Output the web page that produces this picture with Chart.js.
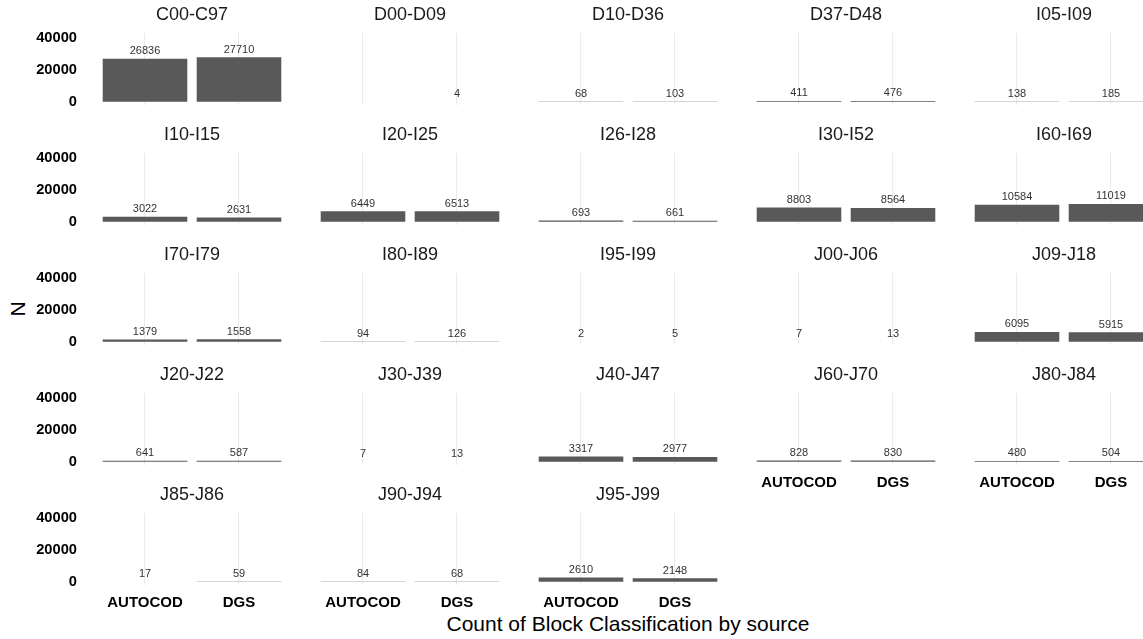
<!DOCTYPE html>
<html>
<head>
<meta charset="utf-8">
<script src="https://cdn.jsdelivr.net/npm/chart.js@4"></script>
<style>
  html, body { margin: 0; padding: 0; background: #fff; }
  body { width: 1143px; height: 639px; position: relative; overflow: hidden; font-family: "Liberation Sans", Arial, sans-serif; }
  .panel { position: absolute; }
  .title-x { position: absolute; left: 628px; top: 624px; transform: translate(-50%, -50%); font-size: 21px; color: #000; white-space: nowrap; }
  .title-y { position: absolute; left: 18px; top: 309px; transform: translate(-50%, -50%) rotate(-90deg); font-size: 21px; color: #000; }
</style>
</head>
<body>
<div class="title-y">N</div>
<div class="title-x">Count of Block Classification by source</div>
<script>
const categories = ['C00-C97', 'D00-D09', 'D10-D36', 'D37-D48', 'I05-I09',
  'I10-I15', 'I20-I25', 'I26-I28', 'I30-I52', 'I60-I69',
  'I70-I79', 'I80-I89', 'I95-I99', 'J00-J06', 'J09-J18',
  'J20-J22', 'J30-J39', 'J40-J47', 'J60-J70', 'J80-J84',
  'J85-J86', 'J90-J94', 'J95-J99'];
const sources = ['AUTOCOD', 'DGS'];
const autocod = [26836, null, 68, 411, 138,
  3022, 6449, 693, 8803, 10584,
  1379, 94, 2, 7, 6095,
  641, 7, 3317, 828, 480,
  17, 84, 2610];
const dgs = [27710, 4, 103, 476, 185,
  2631, 6513, 661, 8564, 11019,
  1558, 126, 5, 13, 5915,
  587, 13, 2977, 830, 504,
  59, 68, 2148];
const yTicks = [0, 20000, 40000];

const FONT = '"Liberation Sans", Arial, sans-serif';
const NCOL = 5;
const PANEL_W = 188, PANEL_H = 72, TITLE_H = 33, XAXIS_H = 30, YAXIS_W = 98;
const COL_STEP = 218, ROW_STEP = 120, LEFT0 = 98;

// value labels above each bar
const barLabels = {
  id: 'barLabels',
  afterDatasetsDraw(chart) {
    const ctx = chart.ctx;
    const meta = chart.getDatasetMeta(0);
    const data = chart.data.datasets[0].data;
    ctx.save();
    ctx.font = '11px ' + FONT;
    ctx.fillStyle = '#333333';
    ctx.textAlign = 'center';
    ctx.textBaseline = 'middle';
    meta.data.forEach((bar, j) => {
      if (data[j] == null) return;
      ctx.fillText(String(data[j]), bar.x, bar.y - 7.7);
    });
    ctx.restore();
  }
};

categories.forEach((cat, i) => {
  const row = Math.floor(i / NCOL), col = i % NCOL;
  const isLeft = col === 0;
  const isBottom = i + NCOL >= categories.length;
  const w = PANEL_W + (isLeft ? YAXIS_W : 0);
  const h = TITLE_H + PANEL_H + XAXIS_H;

  const div = document.createElement('div');
  div.className = 'panel';
  div.style.left = (LEFT0 + col * COL_STEP - (isLeft ? YAXIS_W : 0)) + 'px';
  div.style.top = (row * ROW_STEP) + 'px';
  const canvas = document.createElement('canvas');
  canvas.width = w; canvas.height = h;
  canvas.style.width = w + 'px'; canvas.style.height = h + 'px';
  div.appendChild(canvas);
  document.body.appendChild(div);

  new Chart(canvas, {
    type: 'bar',
    data: {
      labels: sources,
      datasets: [{
        data: [autocod[i], dgs[i]],
        backgroundColor: '#595959',
        borderWidth: 0,
        barPercentage: 0.9,
        categoryPercentage: 1.0
      }]
    },
    options: {
      responsive: false,
      animation: false,
      devicePixelRatio: 1,
      layout: { padding: 0 },
      plugins: {
        legend: { display: false },
        tooltip: { enabled: false },
        title: {
          display: true,
          fullSize: false,
          text: cat,
          color: '#1a1a1a',
          font: { family: FONT, size: 18, weight: 'normal', lineHeight: 1.2 },
          padding: { top: 4.5, bottom: 6.9 }
        }
      },
      scales: {
        x: {
          type: 'category',
          offset: true,
          border: { display: false },
          grid: { display: true, offset: false, color: '#ebebeb', lineWidth: 1.1, drawTicks: false },
          ticks: { display: isBottom, maxRotation: 0, autoSkip: false, color: '#000', padding: 8.5, font: { family: FONT, size: 15, weight: 'bold' } },
          afterFit(scale) { scale.height = XAXIS_H; }
        },
        y: {
          display: isLeft,
          min: -2050,
          max: 42850,
          border: { display: false },
          grid: { display: false, drawTicks: false },
          ticks: {
            stepSize: 20000, includeBounds: false, color: '#000', padding: 21,
            font: { family: FONT, size: 14.7, weight: 'bold' },
            callback: v => String(v)
          },
          afterBuildTicks(scale) { scale.ticks = yTicks.map(v => ({ value: v })); },
          afterFit(scale) { scale.width = isLeft ? YAXIS_W : 0; }
        }
      }
    },
    plugins: [barLabels]
  });
});
</script>
</body>
</html>
